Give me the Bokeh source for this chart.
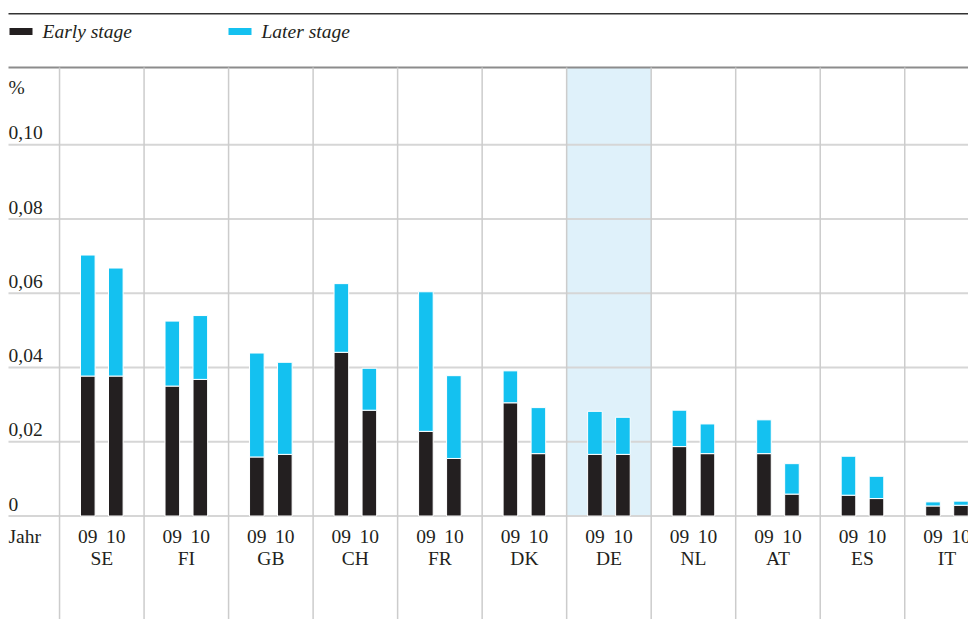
from bokeh.plotting import figure
from bokeh.models import Range1d, ColumnDataSource
from bokeh.core.properties import value
from bokeh.embed import file_html
from bokeh.resources import INLINE

# ---------------- data ----------------
countries = ["SE", "FI", "GB", "CH", "FR", "DK", "DE", "NL", "AT", "ES", "IT"]
years = ["09", "10"]
highlight = "DE"

early_09 = [0.0377, 0.0350, 0.0159, 0.0441, 0.0228, 0.0305, 0.0166, 0.0187, 0.0168, 0.0056, 0.0027]
later_09 = [0.0326, 0.0175, 0.0280, 0.0185, 0.0376, 0.0086, 0.0116, 0.0098, 0.0091, 0.0105, 0.0011]
early_10 = [0.0377, 0.0368, 0.0166, 0.0285, 0.0155, 0.0168, 0.0166, 0.0168, 0.0059, 0.0047, 0.0029]
later_10 = [0.0291, 0.0172, 0.0248, 0.0113, 0.0223, 0.0124, 0.0100, 0.0080, 0.0082, 0.0060, 0.0011]

y_ticks = [0, 0.02, 0.04, 0.06, 0.08, 0.10]
y_tick_labels = ["0", "0,02", "0,04", "0,06", "0,08", "0,10"]
series_names = ["Early stage", "Later stage"]
unit_label = "%"
year_axis_label = "Jahr"

# ---------------- style ----------------
C_EARLY = "#231f20"
C_LATER = "#14c1f0"
C_BAND = "#dff1fa"
C_GRID = "#d6d6d6"
C_VLINE = "#cccccc"
C_TEXT = "#231f20"
FONT = value("Liberation Serif")
FS = "19.5px"

# page-pixel helpers for layout of decorations
PX0, PXU = 101.3, 84.52
PY0, PYU = 515.5, 3712.0
def px2x(px):
    return (px - PX0) / PXU
def py2y(py):
    return (PY0 - py) / PYU

W, H = 968, 619
p = figure(width=W, height=H,
           x_range=Range1d(px2x(0), px2x(W)),
           y_range=Range1d(py2y(H), py2y(0)),
           output_backend="svg", toolbar_location=None,
           x_axis_type=None, y_axis_type=None,
           min_border=0, outline_line_color=None)
p.background_fill_color = "white"
p.border_fill_color = "white"

n = len(countries)
idx = list(range(n))
off = 14.0 / PXU
bw = 14.6 / PXU
top_rule = py2y(67)

# highlighted country band
hi = countries.index(highlight)
p.quad(left=[hi - 0.5], right=[hi + 0.5], bottom=[0], top=[top_rule],
       fill_color=C_BAND, line_color=None)

# horizontal gridlines
p.segment(x0=[px2x(8)] * len(y_ticks), x1=[px2x(W)] * len(y_ticks), y0=y_ticks, y1=y_ticks,
          line_color=C_GRID, line_width=2)
p.segment(x0=[px2x(8)], x1=[px2x(W)], y0=[top_rule], y1=[top_rule],
          line_color="#8c8c8c", line_width=2)
p.segment(x0=[px2x(8)], x1=[px2x(W)], y0=[py2y(13.3)], y1=[py2y(13.3)],
          line_color="#333333", line_width=1.5)

# vertical separators
seps = [i - 0.5 for i in idx]
p.segment(x0=seps, x1=seps, y0=[py2y(H)] * n, y1=[top_rule] * n,
          line_color=C_VLINE, line_width=1.5)

# bars
for yr, early, later, sgn in [("09", early_09, later_09, -1), ("10", early_10, later_10, 1)]:
    src = ColumnDataSource(dict(x=[i + sgn * off for i in idx], early=early, later=later))
    p.vbar_stack(["early", "later"], x="x", width=bw, source=src,
                 fill_color=[C_EARLY, C_LATER], line_color="white", line_width=1)

# y tick labels
p.text(x=[px2x(8)] * len(y_ticks), y=y_ticks, text=y_tick_labels,
       text_align="left", text_baseline="middle", y_offset=-12,
       text_font=FONT, text_font_size=FS, text_color=C_TEXT)
p.text(x=[px2x(8)], y=[py2y(87)], text=[unit_label],
       text_align="left", text_baseline="middle",
       text_font=FONT, text_font_size=FS, text_color=C_TEXT)

# year labels and country labels
yx = [i + s * off for i in idx for s in (-1, 1)]
yt = [y for _ in idx for y in years]
p.text(x=yx, y=[0] * len(yx), text=yt, text_align="center", text_baseline="middle",
       y_offset=20, text_font=FONT, text_font_size=FS, text_color=C_TEXT)
p.text(x=idx, y=[0] * n, text=countries, text_align="center", text_baseline="middle",
       y_offset=42, text_font=FONT, text_font_size=FS, text_color=C_TEXT)
p.text(x=[px2x(8)], y=[0], text=[year_axis_label], text_align="left", text_baseline="middle",
       y_offset=20, text_font=FONT, text_font_size=FS, text_color=C_TEXT)

# legend
for (lx, col, name) in [(9, C_EARLY, series_names[0]), (228, C_LATER, series_names[1])]:
    p.quad(left=[px2x(lx)], right=[px2x(lx + 23)], bottom=[py2y(34.5)], top=[py2y(27.5)],
           fill_color=col, line_color=None)
    p.text(x=[px2x(lx + 33)], y=[py2y(30.5)], text=[name], text_align="left",
           text_baseline="middle", text_font=FONT, text_font_style="italic",
           text_font_size=FS, text_color=C_TEXT)

open("out.html", "w").write(file_html(p, INLINE))
